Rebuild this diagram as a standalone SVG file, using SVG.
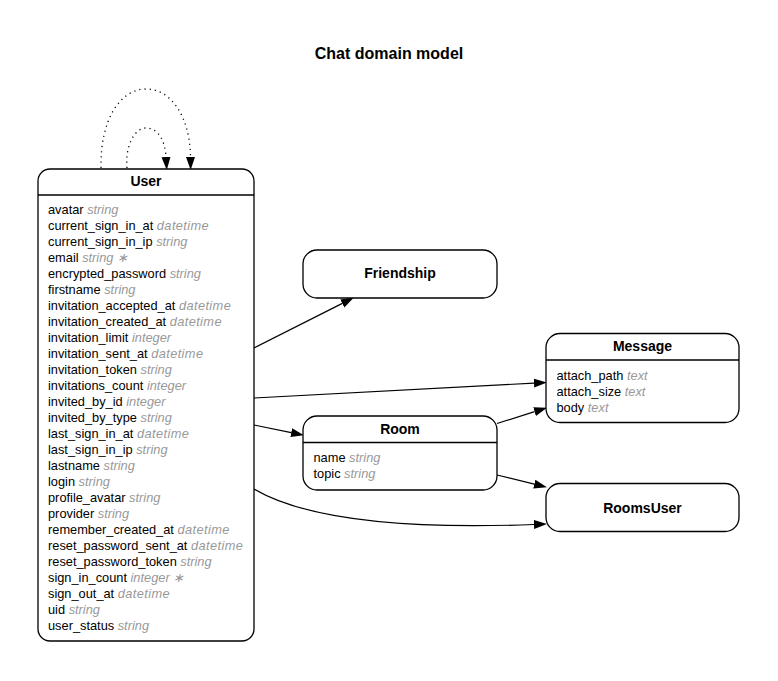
<svg xmlns="http://www.w3.org/2000/svg" width="778" height="681" viewBox="0 0 778 681">
<defs>
<style>
.box{fill:#fff;stroke:#000;stroke-width:1.3}
.sep{stroke:#000;stroke-width:1.3}
.hd{font-family:"Liberation Sans",Arial,sans-serif;font-size:14px;font-weight:bold;fill:#000;text-anchor:middle}
.at{font-family:"Liberation Sans",Arial,sans-serif;font-size:12.8px;fill:#000}
.ty{fill:#999;font-style:italic}
.dt{letter-spacing:0.4px}
.edge{fill:none;stroke:#000;stroke-width:1.2}
.dot{fill:none;stroke:#000;stroke-width:1.3;stroke-dasharray:1.2 4}
</style>
<marker id="ah" viewBox="0 -5 13 10" refX="0" refY="0" markerWidth="13" markerHeight="10" markerUnits="userSpaceOnUse" orient="auto">
<path d="M0,-4.5 L13,0 L0,4.5 z" fill="#000"/>
</marker>
</defs>
<rect width="778" height="681" fill="#fff"/>
<text x="389" y="58.5" style="font-family:'Liberation Sans',Arial,sans-serif;font-size:16px;font-weight:bold;text-anchor:middle">Chat domain model</text>

<g id="connectors">
<path class="dot" d="M101,168 C100,120 120,89 146,89 C172,89 190,118 190.5,157" marker-end="url(#ah)"/>
<path class="dot" d="M127,168 C125,145 135,128 146,128 C158,128 165,140 166,157" marker-end="url(#ah)"/>
<path class="edge" d="M254,348 L342.3,303.4" marker-end="url(#ah)"/>
<path class="edge" d="M254,398 L534,383.1" marker-end="url(#ah)"/>
<path class="edge" d="M254,425 L291.2,432.6" marker-end="url(#ah)"/>
<path class="edge" d="M497,423.5 L534.6,411.6" marker-end="url(#ah)"/>
<path class="edge" d="M497,475 L534.3,484.1" marker-end="url(#ah)"/>
<path class="edge" d="M254,489 C300,516 390,530 534,524.5" marker-end="url(#ah)"/>
</g>

<g id="User">
<rect class="box" x="38" y="169" width="216" height="472" rx="12"/>
<line class="sep" x1="38" y1="195" x2="254" y2="195"/>
<text class="hd" x="146" y="186">User</text>
<g class="at">
<text x="48" y="214">avatar <tspan class="ty">string</tspan></text>
<text x="48" y="230">current_sign_in_at <tspan class="ty dt">datetime</tspan></text>
<text x="48" y="246">current_sign_in_ip <tspan class="ty">string</tspan></text>
<text x="48" y="262">email <tspan class="ty">string ∗</tspan></text>
<text x="48" y="278">encrypted_password <tspan class="ty">string</tspan></text>
<text x="48" y="294">firstname <tspan class="ty">string</tspan></text>
<text x="48" y="310">invitation_accepted_at <tspan class="ty dt">datetime</tspan></text>
<text x="48" y="326">invitation_created_at <tspan class="ty dt">datetime</tspan></text>
<text x="48" y="342">invitation_limit <tspan class="ty">integer</tspan></text>
<text x="48" y="358">invitation_sent_at <tspan class="ty dt">datetime</tspan></text>
<text x="48" y="374">invitation_token <tspan class="ty">string</tspan></text>
<text x="48" y="390">invitations_count <tspan class="ty">integer</tspan></text>
<text x="48" y="406">invited_by_id <tspan class="ty">integer</tspan></text>
<text x="48" y="422">invited_by_type <tspan class="ty">string</tspan></text>
<text x="48" y="438">last_sign_in_at <tspan class="ty dt">datetime</tspan></text>
<text x="48" y="454">last_sign_in_ip <tspan class="ty">string</tspan></text>
<text x="48" y="470">lastname <tspan class="ty">string</tspan></text>
<text x="48" y="486">login <tspan class="ty">string</tspan></text>
<text x="48" y="502">profile_avatar <tspan class="ty">string</tspan></text>
<text x="48" y="518">provider <tspan class="ty">string</tspan></text>
<text x="48" y="534">remember_created_at <tspan class="ty dt">datetime</tspan></text>
<text x="48" y="550">reset_password_sent_at <tspan class="ty dt">datetime</tspan></text>
<text x="48" y="566">reset_password_token <tspan class="ty">string</tspan></text>
<text x="48" y="582">sign_in_count <tspan class="ty">integer ∗</tspan></text>
<text x="48" y="598">sign_out_at <tspan class="ty dt">datetime</tspan></text>
<text x="48" y="614">uid <tspan class="ty">string</tspan></text>
<text x="48" y="630">user_status <tspan class="ty">string</tspan></text>
</g>
</g>

<g id="Friendship">
<rect class="box" x="303" y="250" width="194" height="48" rx="14"/>
<text class="hd" x="400" y="278">Friendship</text>
</g>

<g id="Message">
<rect class="box" x="546" y="333.5" width="193" height="89" rx="14"/>
<line class="sep" x1="546" y1="360" x2="739" y2="360"/>
<text class="hd" x="642.5" y="351">Message</text>
<g class="at">
<text x="556.5" y="379.5">attach_path <tspan class="ty">text</tspan></text>
<text x="556.5" y="395.5">attach_size <tspan class="ty">text</tspan></text>
<text x="556.5" y="411.5">body <tspan class="ty">text</tspan></text>
</g>
</g>

<g id="Room">
<rect class="box" x="303" y="416" width="194" height="74" rx="14"/>
<line class="sep" x1="303" y1="442.5" x2="497" y2="442.5"/>
<text class="hd" x="400" y="434">Room</text>
<g class="at">
<text x="313.5" y="461.5">name <tspan class="ty">string</tspan></text>
<text x="313.5" y="477.5">topic <tspan class="ty">string</tspan></text>
</g>
</g>

<g id="RoomsUser">
<rect class="box" x="546" y="483.5" width="193" height="48" rx="14"/>
<text class="hd" x="642.5" y="512.5">RoomsUser</text>
</g>
</svg>
